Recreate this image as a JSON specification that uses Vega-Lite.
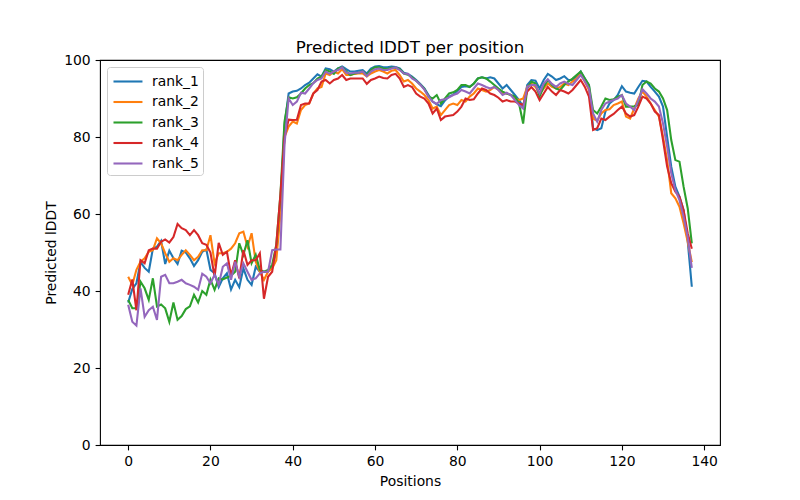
{
"$schema": "https://vega.github.io/schema/vega-lite/v6.json",
"width": 620, "height": 385,
"autosize": {"type": "none"},
"padding": {"left": 100, "top": 60, "right": 80, "bottom": 55},
"background": "white",
"title": {"text": "Predicted lDDT per position", "fontSize": 16.7, "font": "DejaVu Sans", "fontWeight": "normal", "offset": -4, "color": "black"},
"data": {"values": [
{"x":0,"s":"rank_1","y":37},{"x":1,"s":"rank_1","y":40.5},{"x":2,"s":"rank_1","y":42},{"x":3,"s":"rank_1","y":47.5},{"x":4,"s":"rank_1","y":46},{"x":5,"s":"rank_1","y":45},{"x":6,"s":"rank_1","y":51},{"x":7,"s":"rank_1","y":51.5},{"x":8,"s":"rank_1","y":53},{"x":9,"s":"rank_1","y":47},{"x":10,"s":"rank_1","y":50.5},{"x":11,"s":"rank_1","y":48.5},{"x":12,"s":"rank_1","y":47},{"x":13,"s":"rank_1","y":50.5},{"x":14,"s":"rank_1","y":50},{"x":15,"s":"rank_1","y":48.5},{"x":16,"s":"rank_1","y":46.5},{"x":17,"s":"rank_1","y":48},{"x":18,"s":"rank_1","y":50.2},{"x":19,"s":"rank_1","y":50.8},{"x":20,"s":"rank_1","y":45.5},{"x":21,"s":"rank_1","y":44.6},{"x":22,"s":"rank_1","y":41},{"x":23,"s":"rank_1","y":43.3},{"x":24,"s":"rank_1","y":44.6},{"x":25,"s":"rank_1","y":40.4},{"x":26,"s":"rank_1","y":42.9},{"x":27,"s":"rank_1","y":41},{"x":28,"s":"rank_1","y":45.9},{"x":29,"s":"rank_1","y":42.9},{"x":30,"s":"rank_1","y":41.6},{"x":31,"s":"rank_1","y":46.3},{"x":32,"s":"rank_1","y":45},{"x":33,"s":"rank_1","y":45},{"x":34,"s":"rank_1","y":45},{"x":35,"s":"rank_1","y":46.5},{"x":36,"s":"rank_1","y":50},{"x":37,"s":"rank_1","y":62},{"x":38,"s":"rank_1","y":83},{"x":39,"s":"rank_1","y":91.3},{"x":40,"s":"rank_1","y":91.8},{"x":41,"s":"rank_1","y":92},{"x":42,"s":"rank_1","y":92.6},{"x":43,"s":"rank_1","y":93.5},{"x":44,"s":"rank_1","y":94.1},{"x":45,"s":"rank_1","y":95.2},{"x":46,"s":"rank_1","y":96.3},{"x":47,"s":"rank_1","y":95.7},{"x":48,"s":"rank_1","y":97.8},{"x":49,"s":"rank_1","y":97.6},{"x":50,"s":"rank_1","y":97},{"x":51,"s":"rank_1","y":97.8},{"x":52,"s":"rank_1","y":98.3},{"x":53,"s":"rank_1","y":97.6},{"x":54,"s":"rank_1","y":97},{"x":55,"s":"rank_1","y":97},{"x":56,"s":"rank_1","y":97.2},{"x":57,"s":"rank_1","y":97.4},{"x":58,"s":"rank_1","y":96.5},{"x":59,"s":"rank_1","y":97.8},{"x":60,"s":"rank_1","y":98.3},{"x":61,"s":"rank_1","y":98.4},{"x":62,"s":"rank_1","y":98.1},{"x":63,"s":"rank_1","y":98.1},{"x":64,"s":"rank_1","y":98.3},{"x":65,"s":"rank_1","y":98.2},{"x":66,"s":"rank_1","y":97.8},{"x":67,"s":"rank_1","y":96.7},{"x":68,"s":"rank_1","y":96.4},{"x":69,"s":"rank_1","y":95.7},{"x":70,"s":"rank_1","y":94.8},{"x":71,"s":"rank_1","y":93.8},{"x":72,"s":"rank_1","y":92.6},{"x":73,"s":"rank_1","y":90.9},{"x":74,"s":"rank_1","y":89.2},{"x":75,"s":"rank_1","y":88.5},{"x":76,"s":"rank_1","y":88},{"x":77,"s":"rank_1","y":89.5},{"x":78,"s":"rank_1","y":90.5},{"x":79,"s":"rank_1","y":91},{"x":80,"s":"rank_1","y":92},{"x":81,"s":"rank_1","y":93},{"x":82,"s":"rank_1","y":93.2},{"x":83,"s":"rank_1","y":93},{"x":84,"s":"rank_1","y":93.8},{"x":85,"s":"rank_1","y":95.2},{"x":86,"s":"rank_1","y":95.5},{"x":87,"s":"rank_1","y":95.2},{"x":88,"s":"rank_1","y":95.5},{"x":89,"s":"rank_1","y":95.2},{"x":90,"s":"rank_1","y":93.9},{"x":91,"s":"rank_1","y":92.6},{"x":92,"s":"rank_1","y":93.5},{"x":93,"s":"rank_1","y":92.2},{"x":94,"s":"rank_1","y":90.9},{"x":95,"s":"rank_1","y":89.6},{"x":96,"s":"rank_1","y":87.9},{"x":97,"s":"rank_1","y":93.5},{"x":98,"s":"rank_1","y":94.8},{"x":99,"s":"rank_1","y":94.6},{"x":100,"s":"rank_1","y":92.6},{"x":101,"s":"rank_1","y":94.8},{"x":102,"s":"rank_1","y":96.4},{"x":103,"s":"rank_1","y":95.7},{"x":104,"s":"rank_1","y":94.8},{"x":105,"s":"rank_1","y":95.2},{"x":106,"s":"rank_1","y":95.8},{"x":107,"s":"rank_1","y":94.8},{"x":108,"s":"rank_1","y":94.8},{"x":109,"s":"rank_1","y":95.8},{"x":110,"s":"rank_1","y":97},{"x":111,"s":"rank_1","y":95.2},{"x":112,"s":"rank_1","y":93.5},{"x":113,"s":"rank_1","y":82.3},{"x":114,"s":"rank_1","y":81.8},{"x":115,"s":"rank_1","y":82.3},{"x":116,"s":"rank_1","y":86.6},{"x":117,"s":"rank_1","y":88.7},{"x":118,"s":"rank_1","y":89.6},{"x":119,"s":"rank_1","y":90.9},{"x":120,"s":"rank_1","y":93.2},{"x":121,"s":"rank_1","y":91.8},{"x":122,"s":"rank_1","y":91.5},{"x":123,"s":"rank_1","y":91.3},{"x":124,"s":"rank_1","y":93},{"x":125,"s":"rank_1","y":94.6},{"x":126,"s":"rank_1","y":94.4},{"x":127,"s":"rank_1","y":93},{"x":128,"s":"rank_1","y":91.8},{"x":129,"s":"rank_1","y":90.5},{"x":130,"s":"rank_1","y":87.9},{"x":131,"s":"rank_1","y":80},{"x":132,"s":"rank_1","y":72.3},{"x":133,"s":"rank_1","y":67.1},{"x":134,"s":"rank_1","y":64.5},{"x":135,"s":"rank_1","y":61},{"x":136,"s":"rank_1","y":53},{"x":137,"s":"rank_1","y":41.1},
{"x":0,"s":"rank_2","y":43.7},{"x":1,"s":"rank_2","y":41.6},{"x":2,"s":"rank_2","y":45.5},{"x":3,"s":"rank_2","y":47.6},{"x":4,"s":"rank_2","y":48.5},{"x":5,"s":"rank_2","y":50.2},{"x":6,"s":"rank_2","y":50.6},{"x":7,"s":"rank_2","y":53.7},{"x":8,"s":"rank_2","y":52.4},{"x":9,"s":"rank_2","y":49.8},{"x":10,"s":"rank_2","y":47.6},{"x":11,"s":"rank_2","y":48.5},{"x":12,"s":"rank_2","y":48},{"x":13,"s":"rank_2","y":49.4},{"x":14,"s":"rank_2","y":50.6},{"x":15,"s":"rank_2","y":49.4},{"x":16,"s":"rank_2","y":48},{"x":17,"s":"rank_2","y":48.9},{"x":18,"s":"rank_2","y":50.6},{"x":19,"s":"rank_2","y":50.6},{"x":20,"s":"rank_2","y":54.5},{"x":21,"s":"rank_2","y":47.2},{"x":22,"s":"rank_2","y":49.8},{"x":23,"s":"rank_2","y":49.8},{"x":24,"s":"rank_2","y":50.2},{"x":25,"s":"rank_2","y":51},{"x":26,"s":"rank_2","y":52.4},{"x":27,"s":"rank_2","y":55},{"x":28,"s":"rank_2","y":55.4},{"x":29,"s":"rank_2","y":51.5},{"x":30,"s":"rank_2","y":55},{"x":31,"s":"rank_2","y":47.6},{"x":32,"s":"rank_2","y":45},{"x":33,"s":"rank_2","y":42.9},{"x":34,"s":"rank_2","y":45},{"x":35,"s":"rank_2","y":45.9},{"x":36,"s":"rank_2","y":48},{"x":37,"s":"rank_2","y":60},{"x":38,"s":"rank_2","y":80},{"x":39,"s":"rank_2","y":82.7},{"x":40,"s":"rank_2","y":84},{"x":41,"s":"rank_2","y":83.5},{"x":42,"s":"rank_2","y":87},{"x":43,"s":"rank_2","y":88.3},{"x":44,"s":"rank_2","y":88.7},{"x":45,"s":"rank_2","y":91.3},{"x":46,"s":"rank_2","y":92.6},{"x":47,"s":"rank_2","y":93},{"x":48,"s":"rank_2","y":96.5},{"x":49,"s":"rank_2","y":96.1},{"x":50,"s":"rank_2","y":97},{"x":51,"s":"rank_2","y":96.5},{"x":52,"s":"rank_2","y":97.6},{"x":53,"s":"rank_2","y":96.1},{"x":54,"s":"rank_2","y":96.1},{"x":55,"s":"rank_2","y":96.4},{"x":56,"s":"rank_2","y":96.5},{"x":57,"s":"rank_2","y":96.5},{"x":58,"s":"rank_2","y":95.7},{"x":59,"s":"rank_2","y":96.5},{"x":60,"s":"rank_2","y":97},{"x":61,"s":"rank_2","y":97.4},{"x":62,"s":"rank_2","y":97},{"x":63,"s":"rank_2","y":96.5},{"x":64,"s":"rank_2","y":97.2},{"x":65,"s":"rank_2","y":97.4},{"x":66,"s":"rank_2","y":96.1},{"x":67,"s":"rank_2","y":94.4},{"x":68,"s":"rank_2","y":94.8},{"x":69,"s":"rank_2","y":93.9},{"x":70,"s":"rank_2","y":92.6},{"x":71,"s":"rank_2","y":91.8},{"x":72,"s":"rank_2","y":90.9},{"x":73,"s":"rank_2","y":89.6},{"x":74,"s":"rank_2","y":87.4},{"x":75,"s":"rank_2","y":87.9},{"x":76,"s":"rank_2","y":85.7},{"x":77,"s":"rank_2","y":87},{"x":78,"s":"rank_2","y":88.3},{"x":79,"s":"rank_2","y":88.7},{"x":80,"s":"rank_2","y":88.3},{"x":81,"s":"rank_2","y":89.6},{"x":82,"s":"rank_2","y":89.2},{"x":83,"s":"rank_2","y":90.5},{"x":84,"s":"rank_2","y":91.3},{"x":85,"s":"rank_2","y":92.6},{"x":86,"s":"rank_2","y":92.2},{"x":87,"s":"rank_2","y":91.8},{"x":88,"s":"rank_2","y":92.2},{"x":89,"s":"rank_2","y":93},{"x":90,"s":"rank_2","y":92.2},{"x":91,"s":"rank_2","y":91.3},{"x":92,"s":"rank_2","y":91.3},{"x":93,"s":"rank_2","y":90.9},{"x":94,"s":"rank_2","y":90},{"x":95,"s":"rank_2","y":89.6},{"x":96,"s":"rank_2","y":90},{"x":97,"s":"rank_2","y":93},{"x":98,"s":"rank_2","y":93.9},{"x":99,"s":"rank_2","y":93},{"x":100,"s":"rank_2","y":91.3},{"x":101,"s":"rank_2","y":92.6},{"x":102,"s":"rank_2","y":93.9},{"x":103,"s":"rank_2","y":93},{"x":104,"s":"rank_2","y":92.6},{"x":105,"s":"rank_2","y":93},{"x":106,"s":"rank_2","y":93.9},{"x":107,"s":"rank_2","y":93.5},{"x":108,"s":"rank_2","y":94.4},{"x":109,"s":"rank_2","y":95.2},{"x":110,"s":"rank_2","y":96.5},{"x":111,"s":"rank_2","y":94.4},{"x":112,"s":"rank_2","y":92.2},{"x":113,"s":"rank_2","y":84.8},{"x":114,"s":"rank_2","y":84.2},{"x":115,"s":"rank_2","y":86.1},{"x":116,"s":"rank_2","y":87},{"x":117,"s":"rank_2","y":87.2},{"x":118,"s":"rank_2","y":88.3},{"x":119,"s":"rank_2","y":88.7},{"x":120,"s":"rank_2","y":89.2},{"x":121,"s":"rank_2","y":85.3},{"x":122,"s":"rank_2","y":84.8},{"x":123,"s":"rank_2","y":87.4},{"x":124,"s":"rank_2","y":90},{"x":125,"s":"rank_2","y":91.8},{"x":126,"s":"rank_2","y":90.5},{"x":127,"s":"rank_2","y":88.7},{"x":128,"s":"rank_2","y":87},{"x":129,"s":"rank_2","y":85.3},{"x":130,"s":"rank_2","y":80.1},{"x":131,"s":"rank_2","y":74},{"x":132,"s":"rank_2","y":65.4},{"x":133,"s":"rank_2","y":64.1},{"x":134,"s":"rank_2","y":61.9},{"x":135,"s":"rank_2","y":57.6},{"x":136,"s":"rank_2","y":52.8},{"x":137,"s":"rank_2","y":47.5},
{"x":0,"s":"rank_3","y":37.7},{"x":1,"s":"rank_3","y":35.5},{"x":2,"s":"rank_3","y":35.5},{"x":3,"s":"rank_3","y":42.4},{"x":4,"s":"rank_3","y":40.7},{"x":5,"s":"rank_3","y":37.7},{"x":6,"s":"rank_3","y":43.3},{"x":7,"s":"rank_3","y":36},{"x":8,"s":"rank_3","y":36.5},{"x":9,"s":"rank_3","y":35.5},{"x":10,"s":"rank_3","y":32},{"x":11,"s":"rank_3","y":37},{"x":12,"s":"rank_3","y":32.5},{"x":13,"s":"rank_3","y":33.5},{"x":14,"s":"rank_3","y":35.3},{"x":15,"s":"rank_3","y":36},{"x":16,"s":"rank_3","y":39},{"x":17,"s":"rank_3","y":37},{"x":18,"s":"rank_3","y":40},{"x":19,"s":"rank_3","y":39},{"x":20,"s":"rank_3","y":43},{"x":21,"s":"rank_3","y":40.3},{"x":22,"s":"rank_3","y":43.3},{"x":23,"s":"rank_3","y":43},{"x":24,"s":"rank_3","y":43.5},{"x":25,"s":"rank_3","y":44},{"x":26,"s":"rank_3","y":45},{"x":27,"s":"rank_3","y":52.4},{"x":28,"s":"rank_3","y":49.4},{"x":29,"s":"rank_3","y":53.2},{"x":30,"s":"rank_3","y":47.2},{"x":31,"s":"rank_3","y":49.4},{"x":32,"s":"rank_3","y":45.5},{"x":33,"s":"rank_3","y":45},{"x":34,"s":"rank_3","y":45.5},{"x":35,"s":"rank_3","y":46.8},{"x":36,"s":"rank_3","y":52},{"x":37,"s":"rank_3","y":65},{"x":38,"s":"rank_3","y":84},{"x":39,"s":"rank_3","y":90.3},{"x":40,"s":"rank_3","y":90},{"x":41,"s":"rank_3","y":90.3},{"x":42,"s":"rank_3","y":91.3},{"x":43,"s":"rank_3","y":92.6},{"x":44,"s":"rank_3","y":93.5},{"x":45,"s":"rank_3","y":94},{"x":46,"s":"rank_3","y":95.2},{"x":47,"s":"rank_3","y":95.7},{"x":48,"s":"rank_3","y":97.4},{"x":49,"s":"rank_3","y":97},{"x":50,"s":"rank_3","y":96.4},{"x":51,"s":"rank_3","y":97.8},{"x":52,"s":"rank_3","y":98.1},{"x":53,"s":"rank_3","y":97},{"x":54,"s":"rank_3","y":96.1},{"x":55,"s":"rank_3","y":96.5},{"x":56,"s":"rank_3","y":96.7},{"x":57,"s":"rank_3","y":97},{"x":58,"s":"rank_3","y":96.1},{"x":59,"s":"rank_3","y":97.4},{"x":60,"s":"rank_3","y":98.1},{"x":61,"s":"rank_3","y":98.1},{"x":62,"s":"rank_3","y":97.8},{"x":63,"s":"rank_3","y":97.6},{"x":64,"s":"rank_3","y":98},{"x":65,"s":"rank_3","y":98},{"x":66,"s":"rank_3","y":97.6},{"x":67,"s":"rank_3","y":96.5},{"x":68,"s":"rank_3","y":96.2},{"x":69,"s":"rank_3","y":95.5},{"x":70,"s":"rank_3","y":94.6},{"x":71,"s":"rank_3","y":93.6},{"x":72,"s":"rank_3","y":92.5},{"x":73,"s":"rank_3","y":90.5},{"x":74,"s":"rank_3","y":90},{"x":75,"s":"rank_3","y":90.9},{"x":76,"s":"rank_3","y":88.7},{"x":77,"s":"rank_3","y":90},{"x":78,"s":"rank_3","y":91.3},{"x":79,"s":"rank_3","y":91.6},{"x":80,"s":"rank_3","y":92.2},{"x":81,"s":"rank_3","y":93.5},{"x":82,"s":"rank_3","y":93.5},{"x":83,"s":"rank_3","y":93},{"x":84,"s":"rank_3","y":93.9},{"x":85,"s":"rank_3","y":95.2},{"x":86,"s":"rank_3","y":95.5},{"x":87,"s":"rank_3","y":95.2},{"x":88,"s":"rank_3","y":94.4},{"x":89,"s":"rank_3","y":93.5},{"x":90,"s":"rank_3","y":92.6},{"x":91,"s":"rank_3","y":91.8},{"x":92,"s":"rank_3","y":91.3},{"x":93,"s":"rank_3","y":90.9},{"x":94,"s":"rank_3","y":90.5},{"x":95,"s":"rank_3","y":88.7},{"x":96,"s":"rank_3","y":83.5},{"x":97,"s":"rank_3","y":92.6},{"x":98,"s":"rank_3","y":94.4},{"x":99,"s":"rank_3","y":93.9},{"x":100,"s":"rank_3","y":90.5},{"x":101,"s":"rank_3","y":93},{"x":102,"s":"rank_3","y":94.8},{"x":103,"s":"rank_3","y":93.5},{"x":104,"s":"rank_3","y":92.6},{"x":105,"s":"rank_3","y":92.2},{"x":106,"s":"rank_3","y":93.5},{"x":107,"s":"rank_3","y":94.4},{"x":108,"s":"rank_3","y":95.2},{"x":109,"s":"rank_3","y":96.1},{"x":110,"s":"rank_3","y":97},{"x":111,"s":"rank_3","y":95.2},{"x":112,"s":"rank_3","y":93.5},{"x":113,"s":"rank_3","y":87},{"x":114,"s":"rank_3","y":86.1},{"x":115,"s":"rank_3","y":87.9},{"x":116,"s":"rank_3","y":90},{"x":117,"s":"rank_3","y":89.6},{"x":118,"s":"rank_3","y":89.8},{"x":119,"s":"rank_3","y":90.5},{"x":120,"s":"rank_3","y":90.9},{"x":121,"s":"rank_3","y":87.9},{"x":122,"s":"rank_3","y":87.9},{"x":123,"s":"rank_3","y":88},{"x":124,"s":"rank_3","y":88.3},{"x":125,"s":"rank_3","y":93.5},{"x":126,"s":"rank_3","y":94.4},{"x":127,"s":"rank_3","y":93.9},{"x":128,"s":"rank_3","y":92.6},{"x":129,"s":"rank_3","y":91.8},{"x":130,"s":"rank_3","y":90},{"x":131,"s":"rank_3","y":87},{"x":132,"s":"rank_3","y":79.2},{"x":133,"s":"rank_3","y":74},{"x":134,"s":"rank_3","y":73.6},{"x":135,"s":"rank_3","y":67.1},{"x":136,"s":"rank_3","y":61.5},{"x":137,"s":"rank_3","y":52.4},
{"x":0,"s":"rank_4","y":39},{"x":1,"s":"rank_4","y":43},{"x":2,"s":"rank_4","y":35},{"x":3,"s":"rank_4","y":48},{"x":4,"s":"rank_4","y":47.2},{"x":5,"s":"rank_4","y":50.6},{"x":6,"s":"rank_4","y":51},{"x":7,"s":"rank_4","y":51},{"x":8,"s":"rank_4","y":52.8},{"x":9,"s":"rank_4","y":53.4},{"x":10,"s":"rank_4","y":52.6},{"x":11,"s":"rank_4","y":54},{"x":12,"s":"rank_4","y":57.4},{"x":13,"s":"rank_4","y":56.3},{"x":14,"s":"rank_4","y":55.8},{"x":15,"s":"rank_4","y":54.5},{"x":16,"s":"rank_4","y":55.8},{"x":17,"s":"rank_4","y":54.5},{"x":18,"s":"rank_4","y":52.4},{"x":19,"s":"rank_4","y":52},{"x":20,"s":"rank_4","y":50},{"x":21,"s":"rank_4","y":43.7},{"x":22,"s":"rank_4","y":52.5},{"x":23,"s":"rank_4","y":49.4},{"x":24,"s":"rank_4","y":50.2},{"x":25,"s":"rank_4","y":44},{"x":26,"s":"rank_4","y":48},{"x":27,"s":"rank_4","y":43.3},{"x":28,"s":"rank_4","y":50.6},{"x":29,"s":"rank_4","y":46.8},{"x":30,"s":"rank_4","y":48},{"x":31,"s":"rank_4","y":48},{"x":32,"s":"rank_4","y":49.8},{"x":33,"s":"rank_4","y":38},{"x":34,"s":"rank_4","y":43.7},{"x":35,"s":"rank_4","y":45},{"x":36,"s":"rank_4","y":52},{"x":37,"s":"rank_4","y":65},{"x":38,"s":"rank_4","y":80},{"x":39,"s":"rank_4","y":84.5},{"x":40,"s":"rank_4","y":84.4},{"x":41,"s":"rank_4","y":84.5},{"x":42,"s":"rank_4","y":88.3},{"x":43,"s":"rank_4","y":88.7},{"x":44,"s":"rank_4","y":88.7},{"x":45,"s":"rank_4","y":91.3},{"x":46,"s":"rank_4","y":92.2},{"x":47,"s":"rank_4","y":94.4},{"x":48,"s":"rank_4","y":94.8},{"x":49,"s":"rank_4","y":93.9},{"x":50,"s":"rank_4","y":94.8},{"x":51,"s":"rank_4","y":95.2},{"x":52,"s":"rank_4","y":96.1},{"x":53,"s":"rank_4","y":94.8},{"x":54,"s":"rank_4","y":95.2},{"x":55,"s":"rank_4","y":95.2},{"x":56,"s":"rank_4","y":95.2},{"x":57,"s":"rank_4","y":95.2},{"x":58,"s":"rank_4","y":93.8},{"x":59,"s":"rank_4","y":94.8},{"x":60,"s":"rank_4","y":95.2},{"x":61,"s":"rank_4","y":95.7},{"x":62,"s":"rank_4","y":95.3},{"x":63,"s":"rank_4","y":95.2},{"x":64,"s":"rank_4","y":96.1},{"x":65,"s":"rank_4","y":96.4},{"x":66,"s":"rank_4","y":95.2},{"x":67,"s":"rank_4","y":93},{"x":68,"s":"rank_4","y":93.5},{"x":69,"s":"rank_4","y":93},{"x":70,"s":"rank_4","y":91.3},{"x":71,"s":"rank_4","y":90.5},{"x":72,"s":"rank_4","y":90},{"x":73,"s":"rank_4","y":88.7},{"x":74,"s":"rank_4","y":86.1},{"x":75,"s":"rank_4","y":87.4},{"x":76,"s":"rank_4","y":84.4},{"x":77,"s":"rank_4","y":85.3},{"x":78,"s":"rank_4","y":85.5},{"x":79,"s":"rank_4","y":85.7},{"x":80,"s":"rank_4","y":86.6},{"x":81,"s":"rank_4","y":87.9},{"x":82,"s":"rank_4","y":90},{"x":83,"s":"rank_4","y":89.6},{"x":84,"s":"rank_4","y":89.8},{"x":85,"s":"rank_4","y":91.3},{"x":86,"s":"rank_4","y":92.6},{"x":87,"s":"rank_4","y":92.2},{"x":88,"s":"rank_4","y":91.3},{"x":89,"s":"rank_4","y":90.9},{"x":90,"s":"rank_4","y":90.2},{"x":91,"s":"rank_4","y":89.2},{"x":92,"s":"rank_4","y":89.6},{"x":93,"s":"rank_4","y":89.2},{"x":94,"s":"rank_4","y":89.2},{"x":95,"s":"rank_4","y":88.7},{"x":96,"s":"rank_4","y":88.3},{"x":97,"s":"rank_4","y":91.8},{"x":98,"s":"rank_4","y":93},{"x":99,"s":"rank_4","y":91.8},{"x":100,"s":"rank_4","y":89.6},{"x":101,"s":"rank_4","y":91.3},{"x":102,"s":"rank_4","y":93},{"x":103,"s":"rank_4","y":91.8},{"x":104,"s":"rank_4","y":90.9},{"x":105,"s":"rank_4","y":92.2},{"x":106,"s":"rank_4","y":91.8},{"x":107,"s":"rank_4","y":91.3},{"x":108,"s":"rank_4","y":92.2},{"x":109,"s":"rank_4","y":93.5},{"x":110,"s":"rank_4","y":94.8},{"x":111,"s":"rank_4","y":93},{"x":112,"s":"rank_4","y":90.5},{"x":113,"s":"rank_4","y":81.8},{"x":114,"s":"rank_4","y":82.3},{"x":115,"s":"rank_4","y":84.8},{"x":116,"s":"rank_4","y":84.4},{"x":117,"s":"rank_4","y":85.3},{"x":118,"s":"rank_4","y":86},{"x":119,"s":"rank_4","y":87},{"x":120,"s":"rank_4","y":87.9},{"x":121,"s":"rank_4","y":86.1},{"x":122,"s":"rank_4","y":85.3},{"x":123,"s":"rank_4","y":85.7},{"x":124,"s":"rank_4","y":87.9},{"x":125,"s":"rank_4","y":90.5},{"x":126,"s":"rank_4","y":90},{"x":127,"s":"rank_4","y":88.7},{"x":128,"s":"rank_4","y":86.6},{"x":129,"s":"rank_4","y":85.7},{"x":130,"s":"rank_4","y":79.2},{"x":131,"s":"rank_4","y":72.3},{"x":132,"s":"rank_4","y":68},{"x":133,"s":"rank_4","y":65.8},{"x":134,"s":"rank_4","y":64.5},{"x":135,"s":"rank_4","y":61},{"x":136,"s":"rank_4","y":55},{"x":137,"s":"rank_4","y":51},
{"x":0,"s":"rank_5","y":36.4},{"x":1,"s":"rank_5","y":32},{"x":2,"s":"rank_5","y":31},{"x":3,"s":"rank_5","y":40.7},{"x":4,"s":"rank_5","y":33.3},{"x":5,"s":"rank_5","y":35},{"x":6,"s":"rank_5","y":35.9},{"x":7,"s":"rank_5","y":32.5},{"x":8,"s":"rank_5","y":43.7},{"x":9,"s":"rank_5","y":44.2},{"x":10,"s":"rank_5","y":42},{"x":11,"s":"rank_5","y":42},{"x":12,"s":"rank_5","y":42.4},{"x":13,"s":"rank_5","y":42.9},{"x":14,"s":"rank_5","y":42},{"x":15,"s":"rank_5","y":41.6},{"x":16,"s":"rank_5","y":41.1},{"x":17,"s":"rank_5","y":40.3},{"x":18,"s":"rank_5","y":44.5},{"x":19,"s":"rank_5","y":43.7},{"x":20,"s":"rank_5","y":42},{"x":21,"s":"rank_5","y":44.2},{"x":22,"s":"rank_5","y":41.6},{"x":23,"s":"rank_5","y":46.3},{"x":24,"s":"rank_5","y":47.2},{"x":25,"s":"rank_5","y":42.9},{"x":26,"s":"rank_5","y":47.6},{"x":27,"s":"rank_5","y":43.7},{"x":28,"s":"rank_5","y":47.2},{"x":29,"s":"rank_5","y":45},{"x":30,"s":"rank_5","y":42.9},{"x":31,"s":"rank_5","y":43.3},{"x":32,"s":"rank_5","y":44.6},{"x":33,"s":"rank_5","y":45},{"x":34,"s":"rank_5","y":45},{"x":35,"s":"rank_5","y":50.6},{"x":36,"s":"rank_5","y":50.8},{"x":37,"s":"rank_5","y":50.8},{"x":38,"s":"rank_5","y":78},{"x":39,"s":"rank_5","y":90},{"x":40,"s":"rank_5","y":88.3},{"x":41,"s":"rank_5","y":89.2},{"x":42,"s":"rank_5","y":91.5},{"x":43,"s":"rank_5","y":91.3},{"x":44,"s":"rank_5","y":92.6},{"x":45,"s":"rank_5","y":94},{"x":46,"s":"rank_5","y":94.8},{"x":47,"s":"rank_5","y":95.2},{"x":48,"s":"rank_5","y":97},{"x":49,"s":"rank_5","y":96.4},{"x":50,"s":"rank_5","y":97},{"x":51,"s":"rank_5","y":97.4},{"x":52,"s":"rank_5","y":98.1},{"x":53,"s":"rank_5","y":96.7},{"x":54,"s":"rank_5","y":96.5},{"x":55,"s":"rank_5","y":96.7},{"x":56,"s":"rank_5","y":96.7},{"x":57,"s":"rank_5","y":97},{"x":58,"s":"rank_5","y":95.8},{"x":59,"s":"rank_5","y":97},{"x":60,"s":"rank_5","y":97.6},{"x":61,"s":"rank_5","y":97.8},{"x":62,"s":"rank_5","y":97.4},{"x":63,"s":"rank_5","y":97.4},{"x":64,"s":"rank_5","y":97.8},{"x":65,"s":"rank_5","y":98.1},{"x":66,"s":"rank_5","y":97.4},{"x":67,"s":"rank_5","y":96.5},{"x":68,"s":"rank_5","y":96.4},{"x":69,"s":"rank_5","y":95.2},{"x":70,"s":"rank_5","y":94.6},{"x":71,"s":"rank_5","y":93.6},{"x":72,"s":"rank_5","y":92.3},{"x":73,"s":"rank_5","y":90.5},{"x":74,"s":"rank_5","y":89.2},{"x":75,"s":"rank_5","y":88.6},{"x":76,"s":"rank_5","y":89.6},{"x":77,"s":"rank_5","y":89.8},{"x":78,"s":"rank_5","y":90.3},{"x":79,"s":"rank_5","y":90.9},{"x":80,"s":"rank_5","y":91.3},{"x":81,"s":"rank_5","y":92.2},{"x":82,"s":"rank_5","y":91.8},{"x":83,"s":"rank_5","y":91.3},{"x":84,"s":"rank_5","y":92.6},{"x":85,"s":"rank_5","y":93.9},{"x":86,"s":"rank_5","y":93.5},{"x":87,"s":"rank_5","y":93},{"x":88,"s":"rank_5","y":92.6},{"x":89,"s":"rank_5","y":93},{"x":90,"s":"rank_5","y":92.2},{"x":91,"s":"rank_5","y":90.9},{"x":92,"s":"rank_5","y":91.5},{"x":93,"s":"rank_5","y":90.9},{"x":94,"s":"rank_5","y":89.6},{"x":95,"s":"rank_5","y":88.3},{"x":96,"s":"rank_5","y":87.4},{"x":97,"s":"rank_5","y":93},{"x":98,"s":"rank_5","y":93.5},{"x":99,"s":"rank_5","y":93.5},{"x":100,"s":"rank_5","y":91.3},{"x":101,"s":"rank_5","y":93.9},{"x":102,"s":"rank_5","y":95},{"x":103,"s":"rank_5","y":93.8},{"x":104,"s":"rank_5","y":93},{"x":105,"s":"rank_5","y":93.9},{"x":106,"s":"rank_5","y":94.4},{"x":107,"s":"rank_5","y":93.8},{"x":108,"s":"rank_5","y":93.5},{"x":109,"s":"rank_5","y":94.8},{"x":110,"s":"rank_5","y":96.1},{"x":111,"s":"rank_5","y":94.4},{"x":112,"s":"rank_5","y":92.6},{"x":113,"s":"rank_5","y":86.1},{"x":114,"s":"rank_5","y":84},{"x":115,"s":"rank_5","y":87},{"x":116,"s":"rank_5","y":88.7},{"x":117,"s":"rank_5","y":89.2},{"x":118,"s":"rank_5","y":89.6},{"x":119,"s":"rank_5","y":90},{"x":120,"s":"rank_5","y":90.9},{"x":121,"s":"rank_5","y":88.7},{"x":122,"s":"rank_5","y":87.9},{"x":123,"s":"rank_5","y":87},{"x":124,"s":"rank_5","y":89.6},{"x":125,"s":"rank_5","y":92.4},{"x":126,"s":"rank_5","y":91.3},{"x":127,"s":"rank_5","y":90},{"x":128,"s":"rank_5","y":89.2},{"x":129,"s":"rank_5","y":87.9},{"x":130,"s":"rank_5","y":83.5},{"x":131,"s":"rank_5","y":77.5},{"x":132,"s":"rank_5","y":70.6},{"x":133,"s":"rank_5","y":66.2},{"x":134,"s":"rank_5","y":63.6},{"x":135,"s":"rank_5","y":59.3},{"x":136,"s":"rank_5","y":54},{"x":137,"s":"rank_5","y":46}
]},
"mark": {"type": "line", "strokeWidth": 2.08, "clip": true},
"encoding": {
  "x": {"field": "x", "type": "quantitative", "scale": {"domain": [-6.85, 143.85], "nice": false, "zero": false}, "axis": {"values": [0, 20, 40, 60, 80, 100, 120, 140], "title": "Positions"}},
  "y": {"field": "y", "type": "quantitative", "scale": {"domain": [0, 100], "nice": false}, "axis": {"values": [0, 20, 40, 60, 80, 100], "title": "Predicted lDDT"}},
  "color": {"field": "s", "type": "nominal",
    "scale": {"domain": ["rank_1", "rank_2", "rank_3", "rank_4", "rank_5"], "range": ["#1f77b4", "#ff7f0e", "#2ca02c", "#d62728", "#9467bd"]},
    "legend": {"title": null, "orient": "top-left", "offset": 7}}
},
"config": {
  "font": "DejaVu Sans",
  "view": {"stroke": "black", "strokeWidth": 1.1},
  "axis": {"domain": false, "grid": false, "tickColor": "black", "tickSize": 4.9, "tickWidth": 1.1, "labelColor": "black", "labelFont": "DejaVu Sans", "labelFontSize": 13.9, "labelPadding": 4.9, "titleColor": "black", "titleFont": "DejaVu Sans", "titleFontSize": 13.9, "titleFontWeight": "normal", "titlePadding": 5.6, "labelFlush": false},
  "legend": {"symbolType": "M-0.89,0H2.33", "symbolSize": 324, "symbolStrokeWidth": 2.08, "labelFontSize": 13.9, "labelFont": "DejaVu Sans", "labelColor": "black", "padding": 4, "rowPadding": 2.5, "labelOffset": 20, "strokeColor": "#cccccc", "fillColor": "rgba(255,255,255,0.8)", "cornerRadius": 3}
}
}
